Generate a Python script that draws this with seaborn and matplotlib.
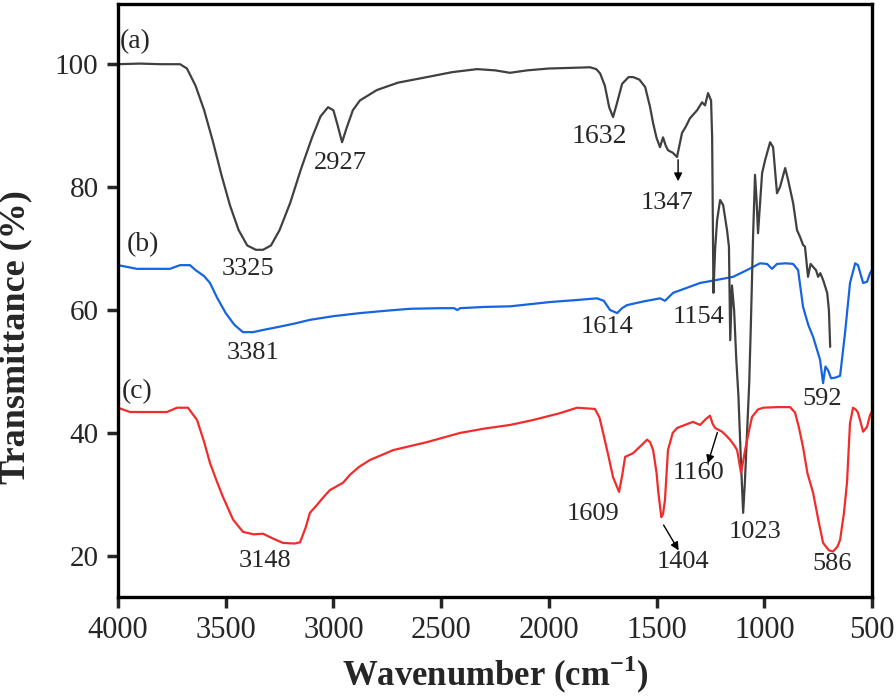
import matplotlib

matplotlib.use("Agg")
import matplotlib.pyplot as plt
import pandas as pd
import seaborn as sns

# spectrum (a)
A_WN = [4000, 3900, 3800, 3712, 3680, 3640, 3600, 3560, 3520, 3480, 3440, 3400, 3360, 3327,
        3290, 3250, 3200, 3150, 3100, 3060, 3025, 3000, 2980, 2960, 2940, 2910, 2877, 2798,
        2700, 2566, 2450, 2333, 2250, 2180, 2100, 2000, 1900, 1809, 1780, 1762, 1740, 1720,
        1702, 1685, 1660, 1630, 1609, 1580, 1553, 1530, 1516, 1500, 1484, 1470, 1458, 1447,
        1425, 1405, 1382, 1365, 1345, 1312, 1289, 1275, 1261, 1247, 1242, 1236, 1228, 1219,
        1205, 1191, 1173, 1164, 1158, 1150, 1140, 1130, 1120, 1108, 1098, 1090, 1080, 1070,
        1062, 1052, 1043, 1036, 1029, 1010, 996, 973, 959, 941, 927, 903, 889, 866, 848, 834,
        820, 811, 797, 785, 773, 760, 750, 740, 727, 708, 700, 694]
A_T = [100.0, 100.1, 100.0, 100.0, 99.3, 96.5, 92.5, 87.5, 82.0, 77.0, 73.0, 70.5, 69.8, 69.8,
       70.5, 73.0, 77.5, 83.0, 88.0, 91.5, 93.0, 92.5, 90.0, 87.3, 89.5, 92.5, 94.1, 95.8,
       97.0, 97.9, 98.7, 99.2, 99.0, 98.6, 99.0, 99.3, 99.4, 99.5, 99.2, 98.5, 96.5, 93.0,
       91.4, 93.5, 96.8, 97.9, 97.9, 97.5, 96.3, 93.0, 90.4, 88.0, 86.5, 88.1, 86.8, 86.0,
       85.6, 84.9, 88.8, 89.8, 91.2, 92.5, 93.8, 93.3, 95.3, 94.1, 88.1, 62.8, 70.0, 74.6,
       77.9, 77.1, 73.0, 70.3, 55.1, 64.0, 60.0, 52.0, 46.0, 35.0, 27.0, 32.0, 40.0, 48.0,
       58.0, 72.0, 82.0, 78.0, 72.5, 82.3, 84.4, 87.3, 86.5, 79.0, 80.0, 83.1, 81.1, 77.4,
       73.0, 71.9, 70.6, 70.3, 65.4, 67.5, 67.0, 66.5, 65.4, 66.0, 64.9, 62.8, 60.0, 54.0]

# spectrum (b)
B_WN = [4000, 3912, 3800, 3759, 3712, 3666, 3640, 3600, 3573, 3540, 3500, 3460, 3420, 3373,
        3320, 3262, 3180, 3109, 3000, 2876, 2750, 2644, 2500, 2440, 2425, 2412, 2300, 2180,
        2100, 1994, 1880, 1776, 1745, 1716, 1683, 1660, 1637, 1560, 1484, 1461, 1423, 1360,
        1298, 1220, 1145, 1080, 1020, 987, 964, 941, 900, 866, 843, 820, 795, 773, 741, 727,
        716, 704, 690, 670, 648, 625, 602, 578, 565, 541, 523, 509, 500]
B_T = [67.3, 66.7, 66.7, 66.7, 67.3, 67.3, 66.5, 65.5, 64.4, 62.0, 59.5, 57.6, 56.4, 56.4,
       56.8, 57.2, 57.8, 58.4, 59.0, 59.5, 59.9, 60.2, 60.3, 60.3, 60.0, 60.3, 60.5, 60.6,
       60.9, 61.3, 61.6, 61.9, 61.5, 60.0, 59.5, 60.3, 60.8, 61.4, 61.9, 61.5, 62.8, 63.6,
       64.4, 64.9, 65.4, 66.5, 67.6, 67.5, 66.7, 67.5, 67.6, 67.5, 66.5, 60.5, 57.5, 55.6,
       51.9, 48.1, 50.8, 50.2, 48.9, 49.0, 49.3, 56.3, 64.4, 67.6, 67.3, 64.4, 64.6, 66.0,
       66.5]

# spectrum (c)
C_WN = [4000, 3944, 3850, 3773, 3726, 3675, 3633, 3600, 3573, 3540, 3513, 3466, 3420, 3370,
        3327, 3280, 3234, 3180, 3155, 3130, 3109, 3076, 3040, 3016, 2955, 2923, 2880, 2830,
        2723, 2566, 2412, 2300, 2180, 2073, 1950, 1869, 1786, 1765, 1748, 1725, 1702, 1674,
        1660, 1646, 1609, 1570, 1544, 1530, 1516, 1500, 1493, 1478, 1470, 1461, 1447, 1425,
        1405, 1331, 1298, 1270, 1252, 1240, 1228, 1196, 1175, 1159, 1140, 1126, 1108, 1100,
        1089, 1070, 1057, 1030, 1005, 940, 880, 857, 840, 820, 800, 773, 750, 727, 700, 681,
        660, 648, 630, 616, 602, 588, 575, 565, 541, 523, 509, 500]
C_T = [44.1, 43.4, 43.4, 43.4, 44.1, 44.1, 42.1, 38.5, 35.1, 32.0, 29.6, 25.9, 23.9, 23.5,
       23.6, 22.8, 22.1, 22.0, 22.2, 24.5, 27.0, 28.3, 29.8, 30.7, 31.9, 33.2, 34.5, 35.6,
       37.2, 38.5, 40.0, 40.7, 41.3, 42.1, 43.2, 44.1, 43.9, 42.5, 40.0, 36.5, 32.8, 30.4,
       33.0, 36.1, 36.7, 38.0, 38.9, 38.5, 37.2, 33.5, 30.7, 26.3, 26.8, 29.1, 37.2, 40.0,
       40.8, 41.8, 41.3, 42.3, 42.8, 41.5, 40.8, 40.2, 39.5, 38.9, 38.0, 37.2, 33.5, 35.0,
       37.2, 40.5, 42.6, 43.8, 44.1, 44.2, 44.2, 43.3, 41.0, 37.7, 33.5, 30.2, 26.0, 22.1,
       20.9, 20.7, 21.5, 22.6, 27.0, 31.9, 41.6, 44.1, 43.8, 43.3, 40.2, 41.0, 42.9, 43.5]

# peak labels: text, wavenumber, transmittance
PEAK_TEXT = ["3325", "2927", "1632", "1347", "3381", "3148", "1614", "1154", "592",
             "1609", "1160", "1023", "1404", "586"]
PEAK_X = [3396, 2969, 1767, 1451, 3373, 3318, 1730, 1307, 732, 1795, 1307, 1043, 1377, 685]
PEAK_Y = [66.7, 83.9, 88.3, 77.4, 53.0, 19.2, 57.2, 58.9, 45.5, 26.8, 33.5, 23.9, 19.0, 18.7]

# arrows: (tail wn, tail T) -> (head wn, head T)
ARROWS = [((1400, 84.9), (1400, 80.5)),
          ((1214, 40.5), (1266, 34.6)),
          ((1474, 25.4), (1391, 20.5))]

SERIES = [("(b)", B_WN, B_T, "#1565e0", (3884, 70.7)),
          ("(a)", A_WN, A_T, "#404040", (3921, 103.7)),
          ("(c)", C_WN, C_T, "#f22b2b", (3912, 46.7))]

sns.set_style("ticks")
plt.rcParams["font.family"] = ["Liberation Serif", "DejaVu Serif"]
plt.rcParams["mathtext.fontset"] = "custom"
plt.rcParams["mathtext.rm"] = "Liberation Serif"
plt.rcParams["mathtext.bf"] = "Liberation Serif:bold"

fig = plt.figure(figsize=(8.96, 6.98), dpi=100)
ax = fig.add_axes([0.1317, 0.1447, 0.8415, 0.8496])

for name, wn, t, color, pos in SERIES:
    df = pd.DataFrame({"wn": wn, "T": t})
    sns.lineplot(data=df, x="wn", y="T", ax=ax, color=color, linewidth=1.6,
                 sort=False, estimator=None)
    ax.text(pos[0], pos[1], name, fontsize=20, ha="center", va="center")

for txt, x, y in zip(PEAK_TEXT, PEAK_X, PEAK_Y):
    ax.text(x, y, txt, fontsize=20 if txt == "1632" else 19, ha="center", va="center")

for tail, head in ARROWS:
    ax.annotate("", xy=head, xytext=tail,
                arrowprops=dict(arrowstyle="-|>", color="black", lw=1.0, mutation_scale=12))

ax.set_xlim(4000, 500)
ax.set_ylim(13.3, 109.8)
ax.set_xticks([4000, 3500, 3000, 2500, 2000, 1500, 1000, 500])
ax.set_yticks([20, 40, 60, 80, 100])
ax.tick_params(axis="x", labelsize=22, width=2.5, length=8, pad=6, direction="out")
ax.tick_params(axis="y", labelsize=21, width=2.5, length=8, pad=6, direction="out")
for sp in ax.spines.values():
    sp.set_linewidth(2.4)
    sp.set_color("black")

ax.set_xlabel(r"Wavenumber (cm$^{\mathbf{-1}}$)", fontsize=25, fontweight="bold", labelpad=6)
ax.set_ylabel("Transmittance (%)", fontsize=26, fontweight="bold")
ax.yaxis.set_label_coords(-0.113, 0.438)

fig.savefig("out.png", dpi=100)
